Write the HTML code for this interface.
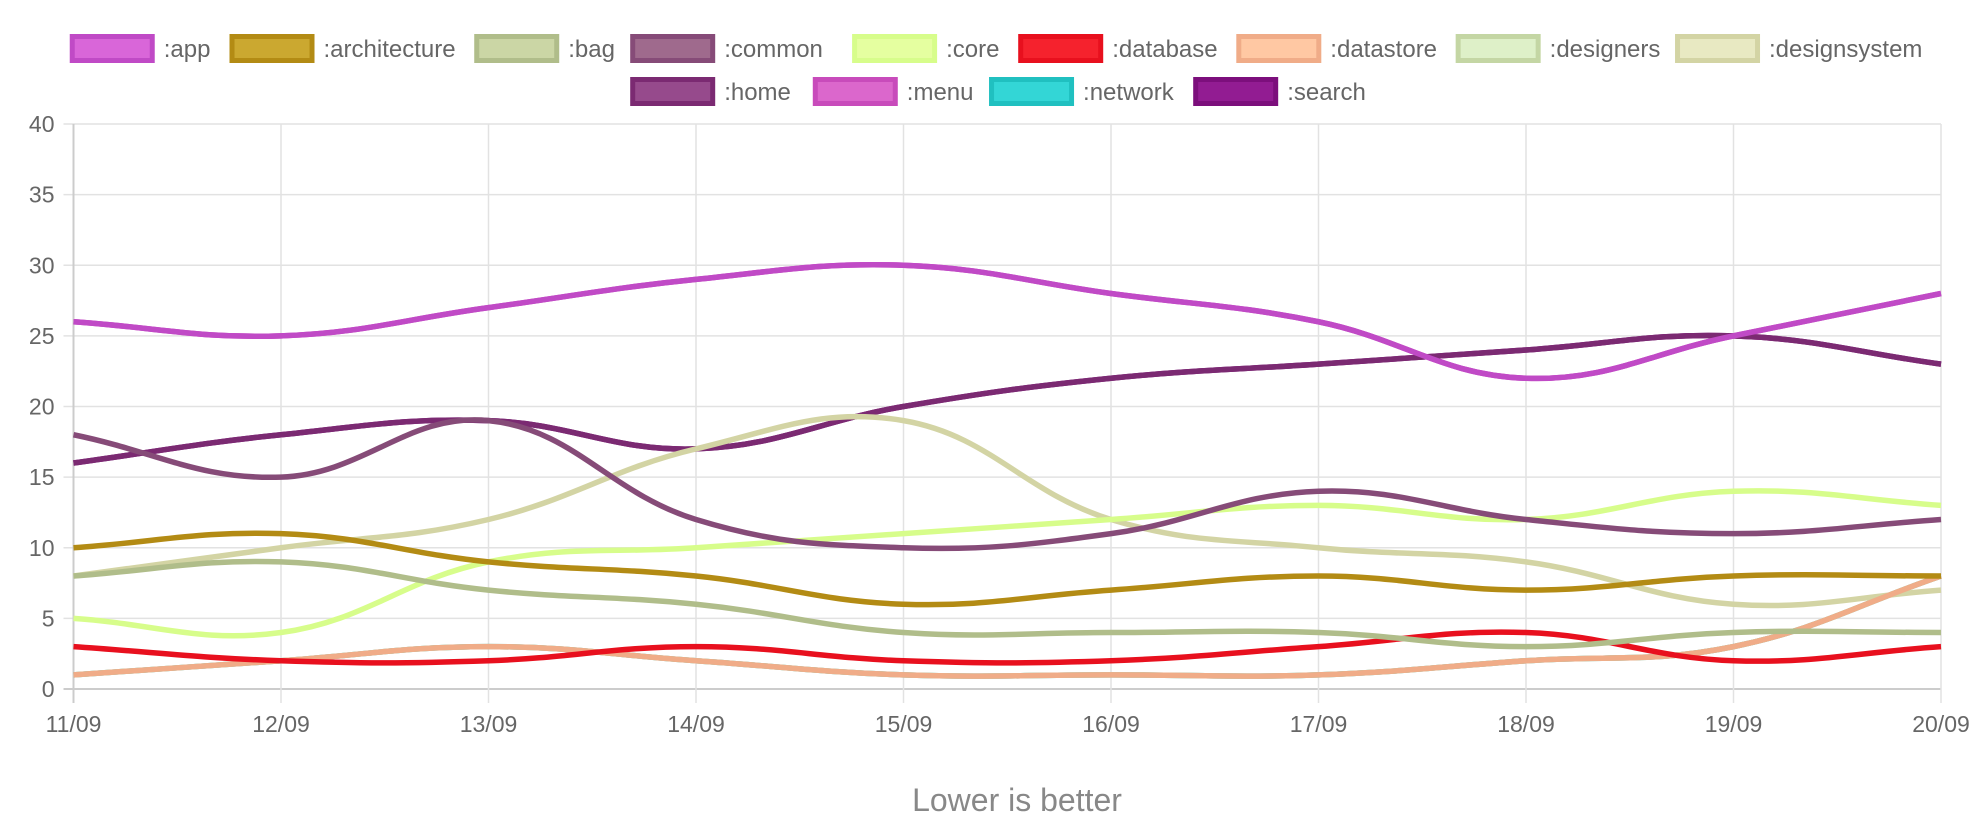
<!DOCTYPE html>
<html><head><meta charset="utf-8"><style>
html,body{margin:0;padding:0;background:#fff;width:1988px;height:834px;overflow:hidden}
svg{display:block;font-family:"Liberation Sans",sans-serif}
</style></head><body>
<svg id="chart" width="1988" height="834">
<g id="legend"></g>
<g id="grid"></g>
<g id="ylabels"></g>
<g id="xlabels"></g>
<g id="lines"></g>
<text x="1017" y="811" text-anchor="middle" font-size="32" fill="#888">Lower is better</text>
</svg>
<script>
const categories = ["11/09","12/09","13/09","14/09","15/09","16/09","17/09","18/09","19/09","20/09"];
const yTicks = [0,5,10,15,20,25,30,35,40];
const seriesNames = [":app",":architecture",":bag",":common",":core",":database",":datastore",":designers",":designsystem",":home",":menu",":network",":search"];
const appVals = [26,25,27,29,30,28,26,22,25,28];
const architectureVals = [10,11,9,8,6,7,8,7,8,8];
const bagVals = [8,9,7,6,4,4,4,3,4,4];
const commonVals = [18,15,19,12,10,11,14,12,11,12];
const coreVals = [5,4,9,10,11,12,13,12,14,13];
const databaseVals = [3,2,2,3,2,2,3,4,2,3];
const datastoreVals = [1,2,3,2,1,1,1,2,3,8];
const designersVals = [1,2,3,2,1,1,1,2,3,8];
const designsystemVals = [8,10,12,17,19,12,10,9,6,7];
const homeVals = [16,18,19,17,20,22,23,24,25,23];
const menuVals = [26,25,27,29,30,28,26,22,25,28];
const networkVals = [1,2,3,2,1,1,1,2,3,8];
const searchVals = [16,18,19,17,20,22,23,24,25,23];
const allVals=[appVals,architectureVals,bagVals,commonVals,coreVals,databaseVals,datastoreVals,designersVals,designsystemVals,homeVals,menuVals,networkVals,searchVals];
const strokes=["#c04ac6","#b38b14","#b0bd8a","#864b78","#d7fd8b","#e8101e","#f0ac88","#c4d6a4","#d3d4a4","#7b2a72","#c84bbb","#20c0c0","#7c0f7c"];
const fills=["#d966d9","#cba830","#cbd6a5","#9f6a8d","#e5ffa0","#f5222d","#ffc8a3","#def0c8","#e8e9c2","#964a8c","#db67cc","#33d6d6","#921c92"];
const NS="http://www.w3.org/2000/svg";
const L=73.5,R=1941,T=124,B=689,ymax=40;
const xs=i=>L+(R-L)*i/(categories.length-1);
const ys=v=>B-(B-T)*v/ymax;
function mk(tag,attrs,parent){const e=document.createElementNS(NS,tag);for(const k in attrs)e.setAttribute(k,attrs[k]);parent.appendChild(e);return e;}
const grid=document.getElementById('grid'),yl=document.getElementById('ylabels'),xl=document.getElementById('xlabels'),lines=document.getElementById('lines'),leg=document.getElementById('legend');
yTicks.forEach(t=>{const y=ys(t);
 const g=mk('line',{x1:L-10,x2:R,y1:y,y2:y,stroke:t===0?'#ccc':'#e2e2e2','stroke-width':t===0?2:1.5},grid);
 
 
 const tx=mk('text',{x:L-19,y:y+8,'text-anchor':'end','font-size':23,fill:'#666'},yl);tx.textContent=t;
 
 
});
categories.forEach((c,i)=>{const x=xs(i);
 const g=mk('line',{x1:x,x2:x,y1:T,y2:B+14,stroke:i===0?'#ccc':'#e2e2e2','stroke-width':i===0?2:1.5},grid);
 
 
 const tx=mk('text',{x:x,y:B+43,'text-anchor':'middle','font-size':23,fill:'#666'},xl);tx.textContent=c;
 
 
});
function pathFor(vals){
 const p=vals.map((v,i)=>[xs(i),ys(v)]);const t=0.4;let d=`M${p[0][0]},${p[0][1]}`;
 const cps=p.map((pt,i)=>{const prev=p[Math.max(i-1,0)],next=p[Math.min(i+1,p.length-1)];
  const d01=Math.hypot(pt[0]-prev[0],pt[1]-prev[1]),d12=Math.hypot(next[0]-pt[0],next[1]-pt[1]);
  let fa=d01/(d01+d12)||0,fb=d12/(d01+d12)||0;fa*=t;fb*=t;
  return {p:[pt[0]-fa*(next[0]-prev[0]),pt[1]-fa*(next[1]-prev[1])],n:[pt[0]+fb*(next[0]-prev[0]),pt[1]+fb*(next[1]-prev[1])]};});
 for(let i=1;i<p.length;i++){const c1=cps[i-1].n,c2=cps[i].p;
  const cy1=Math.min(Math.max(c1[1],T),B),cy2=Math.min(Math.max(c2[1],T),B);
  d+=` C${c1[0]},${cy1} ${c2[0]},${cy2} ${p[i][0]},${p[i][1]}`;}
 return d;}
for(let s=allVals.length-1;s>=0;s--){
 const el=mk('path',{d:pathFor(allVals[s]),fill:'none',stroke:strokes[s],'stroke-width':5.5,'stroke-linejoin':'round'},lines);
 
 
}
const legX=[55,181,374,497,672,803,975,1148,1321,497,641,780,941];
seriesNames.forEach((n,i)=>{const row=i<9?0:1;const x=legX[i]*1.268;const cy=row?91:48;
 const g=mk('g',{},leg);
 
 
 mk('rect',{x:x+2.5,y:cy-11.5,width:80,height:24,fill:fills[i],stroke:strokes[i],'stroke-width':5},g);
 const tx=mk('text',{x:x+94,y:cy+9,'font-size':24,fill:'#666'},g);tx.textContent=n;
});
</script>
</body></html>
